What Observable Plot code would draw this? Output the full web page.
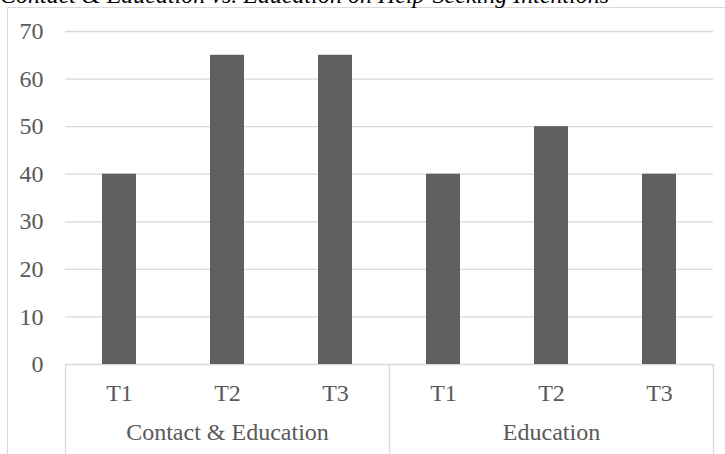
<!DOCTYPE html>
<html>
<head>
<meta charset="utf-8">
<script src="https://cdn.jsdelivr.net/npm/d3@7"></script>
<script src="https://cdn.jsdelivr.net/npm/@observablehq/plot@0.6"></script>
<style>
  html, body { margin: 0; padding: 0; background: #fff; overflow: hidden; }
  #wrap { position: relative; width: 725px; height: 454px; overflow: hidden; }
  #title { position: absolute; left: 0px; top: -17px; line-height: 24px; font-family: "Liberation Serif", "Times New Roman", serif; font-style: italic; font-size: 24px; color: #000; white-space: nowrap; z-index: 3; }
  #border { position: absolute; left: 7px; top: 7px; width: 800px; height: 600px; border: 1px solid #d9d9d9; pointer-events: none; z-index: 2; }
  #chart { position: absolute; left: 0; top: 0; z-index: 1; }
  #chart svg { background: transparent; }
</style>
</head>
<body>
<div id="wrap">
  <div id="title">Contact &amp; Education vs. Education on Help-Seeking Intentions</div>
  <div id="border"></div>
  <div id="chart"></div>
</div>
<script>
const groups = ["Contact & Education", "Education"];
const times = ["T1", "T2", "T3"];
const contactEducation = [40, 65, 65];
const education = [40, 50, 40];
const yTicks = [0, 10, 20, 30, 40, 50, 60, 70];

const seriesByGroup = [contactEducation, education];
const data = [];
groups.forEach((g, gi) => times.forEach((t, ti) => {
  data.push({ key: g + "|" + t, group: g, t, value: seriesByGroup[gi][ti] });
}));
const keys = data.map(d => d.key);
const groupLabels = groups.map(g => ({ key: g + "|" + times[1], group: g }));
const leftEdges = groups.map(g => g + "|" + times[0]);
const rightEdge = [groups[groups.length - 1] + "|" + times[times.length - 1]];

const W = 725, H = 454, mL = 65, mR = 12, mT = 31, mB = 90;
const step = (W - mL - mR) / keys.length;

const plot = Plot.plot({
  width: W, height: H,
  marginLeft: mL, marginRight: mR, marginTop: mT, marginBottom: mB,
  style: { fontFamily: "'Liberation Serif', 'Times New Roman', serif", fontSize: "24px", color: "#595959", background: "transparent" },
  x: { domain: keys, paddingInner: 0.685, paddingOuter: 0.3425, axis: null },
  y: { domain: [0, 70], ticks: yTicks, tickSize: 0, tickPadding: 22, label: null },
  marks: [
    Plot.ruleY(yTicks, { stroke: "#d9d9d9", strokeWidth: 1.3 }),
    Plot.barY(data, { x: "key", y: "value", fill: "#5f5f5f" }),
    Plot.ruleX(leftEdges, { x: d => d, y1: 0, y2: -25, dx: -step / 2, stroke: "#d9d9d9", strokeWidth: 1.3 }),
    Plot.ruleX(rightEdge, { x: d => d, y1: 0, y2: -25, dx: step / 2, stroke: "#d9d9d9", strokeWidth: 1.3 }),
    Plot.text(data, { x: "key", text: "t", frameAnchor: "bottom", dy: 36, fill: "#595959", fontSize: 24 }),
    Plot.text(groupLabels, { x: "key", text: "group", frameAnchor: "bottom", dy: 75, fill: "#595959", fontSize: 24 })
  ]
});
document.getElementById("chart").appendChild(plot);
</script>
</body>
</html>
